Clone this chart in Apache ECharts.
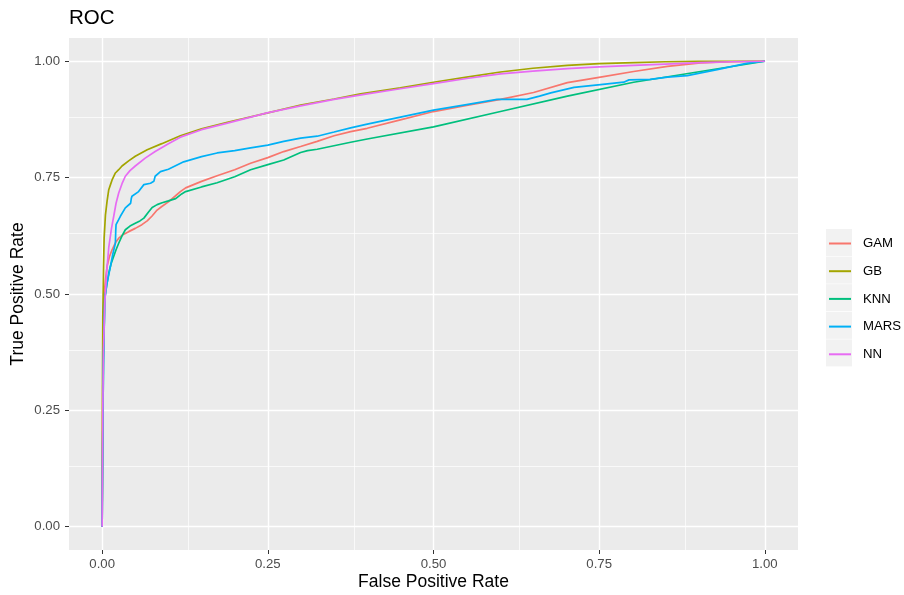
<!DOCTYPE html>
<html>
<head>
<meta charset="utf-8">
<script src="https://cdn.jsdelivr.net/npm/echarts@6/dist/echarts.min.js"></script>
<style>html,body{margin:0;padding:0;background:#fff}#c{width:904px;height:595px}</style>
</head>
<body>
<div id="c"></div>
<script>
const seriesNames = ['GAM', 'GB', 'KNN', 'MARS', 'NN'];
const colors = ['#F8766D', '#A3A500', '#00BF7D', '#00B0F6', '#E76BF3'];
const majorTicks = [0, 0.25, 0.5, 0.75, 1];
const minorTicks = [0.125, 0.375, 0.625, 0.875];

const gam = [[0,0],[0.001,0.3],[0.0025,0.49],[0.005,0.53],[0.0075,0.56],[0.011,0.58],[0.015,0.595],[0.02,0.61],[0.025,0.62],[0.032,0.628],[0.04,0.634],[0.05,0.641],[0.06,0.649],[0.068,0.657],[0.075,0.667],[0.082,0.679],[0.09,0.688],[0.1,0.698],[0.11,0.71],[0.118,0.72],[0.126,0.728],[0.15,0.742],[0.1735,0.754],[0.2,0.767],[0.224,0.781],[0.25,0.793],[0.274,0.806],[0.2995,0.817],[0.3245,0.828],[0.35,0.84],[0.375,0.849],[0.4,0.856],[0.45,0.874],[0.5,0.892],[0.55,0.905],[0.601,0.918],[0.651,0.933],[0.702,0.954],[0.752,0.966],[0.802,0.978],[0.853,0.989],[0.903,0.9966],[0.95,0.999],[1,1]];
const gb = [[0,0],[0.0005,0.3],[0.001,0.45],[0.002,0.55],[0.003,0.62],[0.005,0.67],[0.0075,0.7],[0.01,0.724],[0.0126,0.735],[0.015,0.745],[0.02,0.76],[0.025,0.767],[0.03,0.775],[0.04,0.786],[0.05,0.796],[0.068,0.81],[0.09,0.823],[0.118,0.84],[0.15,0.855],[0.189,0.869],[0.25,0.889],[0.2995,0.906],[0.35,0.919],[0.39,0.93],[0.45,0.943],[0.5,0.955],[0.55,0.966],[0.601,0.977],[0.65,0.985],[0.702,0.991],[0.75,0.995],[0.802,0.997],[0.85,0.999],[0.9,0.9997],[1,1]];
const knn = [[0,0],[0.001,0.2],[0.002,0.36],[0.004,0.49],[0.007,0.52],[0.01,0.545],[0.0135,0.565],[0.0175,0.581],[0.021,0.595],[0.025,0.609],[0.03,0.625],[0.035,0.638],[0.042,0.646],[0.05,0.652],[0.057,0.657],[0.063,0.663],[0.07,0.676],[0.0755,0.686],[0.083,0.692],[0.0905,0.696],[0.1,0.7],[0.111,0.705],[0.12,0.715],[0.126,0.72],[0.15,0.73],[0.1735,0.739],[0.2,0.752],[0.224,0.767],[0.25,0.778],[0.274,0.788],[0.2995,0.804],[0.31,0.808],[0.3245,0.811],[0.375,0.826],[0.4,0.833],[0.5,0.859],[0.601,0.892],[0.702,0.925],[0.802,0.955],[0.903,0.978],[1,1]];
const mars = [[0,0],[0.001,0.2],[0.002,0.35],[0.004,0.49],[0.007,0.52],[0.0125,0.559],[0.016,0.585],[0.02,0.609],[0.0205,0.635],[0.021,0.649],[0.0275,0.667],[0.035,0.685],[0.043,0.695],[0.044,0.705],[0.045,0.71],[0.055,0.72],[0.063,0.735],[0.073,0.738],[0.078,0.742],[0.08,0.753],[0.088,0.763],[0.1,0.768],[0.123,0.784],[0.15,0.795],[0.1735,0.803],[0.2,0.808],[0.224,0.814],[0.25,0.82],[0.274,0.828],[0.2995,0.835],[0.3245,0.839],[0.35,0.848],[0.375,0.857],[0.4,0.865],[0.45,0.88],[0.5,0.895],[0.55,0.907],[0.596,0.918],[0.641,0.918],[0.66,0.925],[0.677,0.932],[0.712,0.944],[0.752,0.95],[0.787,0.955],[0.795,0.96],[0.827,0.961],[0.853,0.966],[0.883,0.969],[0.928,0.982],[0.974,0.996],[1,1]];
const nn = [[0,0],[0.001,0.25],[0.002,0.38],[0.004,0.48],[0.007,0.55],[0.01,0.6],[0.014,0.64],[0.0175,0.667],[0.021,0.695],[0.025,0.717],[0.03,0.737],[0.035,0.753],[0.042,0.765],[0.05,0.775],[0.065,0.792],[0.08,0.806],[0.1,0.823],[0.118,0.837],[0.15,0.853],[0.189,0.867],[0.249,0.889],[0.2995,0.904],[0.35,0.918],[0.4,0.93],[0.45,0.941],[0.5,0.952],[0.55,0.963],[0.601,0.973],[0.65,0.979],[0.702,0.984],[0.75,0.988],[0.802,0.991],[0.85,0.994],[0.903,0.997],[0.95,0.999],[1,1]];
const curves = [gam, gb, knn, mars, nn];

const FONT = '"Liberation Sans", Arial, sans-serif';
const chart = echarts.init(document.getElementById('c'), null, {renderer: 'canvas', width: 904, height: 595});

const gridLines = [];
minorTicks.forEach(v => { gridLines.push({xAxis: v, lineStyle: {width: 0.7}}); gridLines.push({yAxis: v, lineStyle: {width: 0.7}}); });
majorTicks.forEach(v => { gridLines.push({xAxis: v, lineStyle: {width: 1.4}}); gridLines.push({yAxis: v, lineStyle: {width: 1.4}}); });

const series = [{
  name: '__grid', type: 'line', data: [], z: 0, silent: true, showSymbol: false,
  markLine: {silent: true, symbol: 'none', label: {show: false}, animation: false, z: 0, zlevel: 0,
    lineStyle: {color: '#FFFFFF', type: 'solid'}, emphasis: {disabled: true}, data: gridLines}
}];
seriesNames.forEach((n, i) => {
  series.push({name: n, type: 'line', data: curves[i], z: 10, showSymbol: false, symbol: 'none',
    lineStyle: {color: colors[i], width: 1.7}, itemStyle: {color: colors[i]}, animation: false, clip: true});
});

const legendBoxes = seriesNames.map((n, i) => ({
  type: 'rect', left: 826, top: 229 + i * 27.6, shape: {width: 26, height: 27}, style: {fill: '#F2F2F2'}, z: -1
}));

chart.setOption({
  animation: false,
  title: {text: 'ROC', left: 69, top: 8, padding: 0, textStyle: {fontFamily: FONT, fontSize: 20.5, fontWeight: 'normal', color: '#000'}},
  grid: {left: 69, width: 729, top: 38, height: 512, show: true, backgroundColor: '#EBEBEB', borderWidth: 0,
    containLabel: false, outerBoundsMode: 'none'},
  legend: {
    data: seriesNames, orient: 'vertical', left: 828, top: 237, itemWidth: 22, itemHeight: 14, itemGap: 14.7, padding: 0,
    itemStyle: {opacity: 0}, lineStyle: {width: 2},
    textStyle: {fontFamily: FONT, fontSize: 13.2, color: '#000', padding: [0, 0, 0, 7]},
    selectedMode: false
  },
  xAxis: {
    type: 'value', min: -0.05, max: 1.05,
    name: 'False Positive Rate', nameLocation: 'middle', nameGap: 23, nameMoveOverlap: false,
    nameTextStyle: {fontFamily: FONT, fontSize: 17.5, color: '#000'},
    axisLine: {show: false, onZero: false},
    axisTick: {show: true, length: 4, customValues: majorTicks, lineStyle: {color: '#333333', width: 1}},
    axisLabel: {customValues: majorTicks, margin: 8, fontFamily: FONT, fontSize: 13.2, color: '#4D4D4D', formatter: v => v.toFixed(2)},
    splitLine: {show: false}
  },
  yAxis: {
    type: 'value', min: -0.05, max: 1.05,
    name: 'True Positive Rate', nameLocation: 'middle', nameGap: 42, nameRotate: 90, nameMoveOverlap: false,
    nameTextStyle: {fontFamily: FONT, fontSize: 17.5, color: '#000'},
    axisLine: {show: false, onZero: false},
    axisTick: {show: true, length: 4, customValues: majorTicks, lineStyle: {color: '#333333', width: 1}},
    axisLabel: {customValues: majorTicks, margin: 9, fontFamily: FONT, fontSize: 13.2, color: '#4D4D4D', formatter: v => v.toFixed(2)},
    splitLine: {show: false}
  },
  graphic: legendBoxes,
  series: series
});
</script>
</body>
</html>
